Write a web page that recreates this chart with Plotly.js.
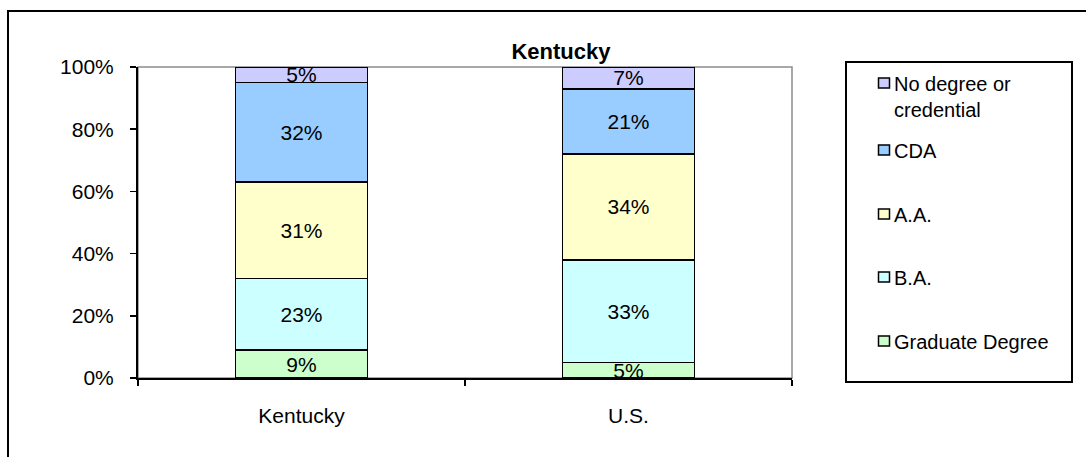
<!DOCTYPE html>
<html>
<head>
<meta charset="utf-8">
<script src="https://cdn.plot.ly/plotly-3.0.1.min.js"></script>
<style>html,body{margin:0;padding:0;background:#fff;}#chart{width:1086px;height:457px;}</style>
</head>
<body>
<div id="chart"></div>
<script>
// ---- data ----
var categories = ["Kentucky", "U.S."];
var seriesNames = ["Graduate Degree", "B.A.", "A.A.", "CDA", "No degree or credential"];
var legendLabels = ["Graduate Degree", "B.A.", "A.A.", "CDA", "No degree or<br>credential"];
var graduateDegree = [9, 5];
var baDegree = [23, 33];
var aaDegree = [31, 34];
var cdaCredential = [32, 21];
var noDegree = [5, 7];
var yTickValues = [0, 20, 40, 60, 80, 100];
var chartTitle = "Kentucky";

var seriesValues = [graduateDegree, baDegree, aaDegree, cdaCredential, noDegree];
var colors = ["#CCFFCC", "#CCFFFF", "#FFFFCC", "#99CCFF", "#CCCCFF"];

// ---- layout geometry (pixels) ----
var W = 1086, H = 457;
var L = 138, R = 792, T = 67, B = 378;
function px(x){ return (x - L) / (R - L); }
function py(y){ return (B - y) / (B - T); }

var font = "Liberation Sans, Arial, sans-serif";

var traces = seriesNames.map(function(name, i){
  return {
    type: "bar",
    name: name,
    x: categories,
    y: seriesValues[i],
    text: seriesValues[i].map(function(v){ return v + "%"; }),
    textposition: "inside",
    insidetextanchor: "middle",
    constraintext: "none",
    textangle: 0,
    cliponaxis: false,
    textfont: {family: font, size: 21, color: "#000"},
    marker: {color: colors[i], line: {color: "#000", width: 1.5}},
    showlegend: false,
    hoverinfo: "skip"
  };
});

var shapes = [
  // outer chart border
  {type: "rect", xref: "paper", yref: "paper", x0: px(8), x1: px(1100), y0: py(470), y1: py(11),
   line: {color: "#000", width: 2}, fillcolor: "rgba(0,0,0,0)", layer: "below"},
  // plot area frame (grey)
  {type: "rect", xref: "paper", yref: "paper", x0: 0, x1: 1, y0: 0, y1: 1,
   line: {color: "#8c8c8c", width: 1.5}, fillcolor: "rgba(0,0,0,0)", layer: "below"},
  // legend box
  {type: "rect", xref: "paper", yref: "paper", x0: px(846), x1: px(1072), y0: py(382), y1: py(62),
   line: {color: "#000", width: 2}, fillcolor: "rgba(0,0,0,0)"}
];
var annotations = [];

// manual legend (top to bottom: reversed series order)
var legendY = [341, 277, 214, 150, 83];
for (var i = seriesNames.length - 1; i >= 0; i--) {
  var cy = legendY[i];
  shapes.push({type: "rect", xref: "paper", yref: "paper",
    x0: px(878.5), x1: px(889.5), y0: py(cy + 5), y1: py(cy - 5),
    line: {color: "#000", width: 1.5}, fillcolor: colors[i]});
  annotations.push({xref: "paper", yref: "paper", x: px(892), y: py(cy - 12),
    xanchor: "left", yanchor: "top", align: "left", showarrow: false,
    text: legendLabels[i], font: {family: font, size: 20, color: "#000"}});
}

var layout = {
  width: W, height: H,
  margin: {l: L, r: W - R, t: T, b: H - B, pad: 0},
  paper_bgcolor: "#fff", plot_bgcolor: "#fff",
  barmode: "stack",
  bargap: 0.596,
  showlegend: false,
  title: {text: "<b>" + chartTitle + "</b>", font: {family: font, size: 22, color: "#000"},
          xref: "paper", x: px(561), xanchor: "center",
          yref: "container", y: 1 - 51 / H, yanchor: "middle"},
  xaxis: {
    type: "category",
    showline: true, linecolor: "#000", linewidth: 2,
    ticks: "outside", tickson: "boundaries", ticklen: 6, tickwidth: 1.5, tickcolor: "#000",
    tickfont: {family: font, size: 21, color: "#000"},
    ticklabelstandoff: 18,
    showgrid: false, zeroline: false, fixedrange: true
  },
  yaxis: {
    range: [0, 100],
    tickvals: yTickValues,
    ticktext: yTickValues.map(function(v){ return v + "%"; }),
    showline: true, linecolor: "#000", linewidth: 2,
    ticks: "outside", ticklen: 6, tickwidth: 1.5, tickcolor: "#000",
    tickfont: {family: font, size: 21, color: "#000"},
    ticklabelstandoff: 12,
    showgrid: false, zeroline: false, fixedrange: true
  },
  shapes: shapes,
  annotations: annotations
};

Plotly.newPlot("chart", traces, layout, {displayModeBar: false, staticPlot: true});
</script>
</body>
</html>
